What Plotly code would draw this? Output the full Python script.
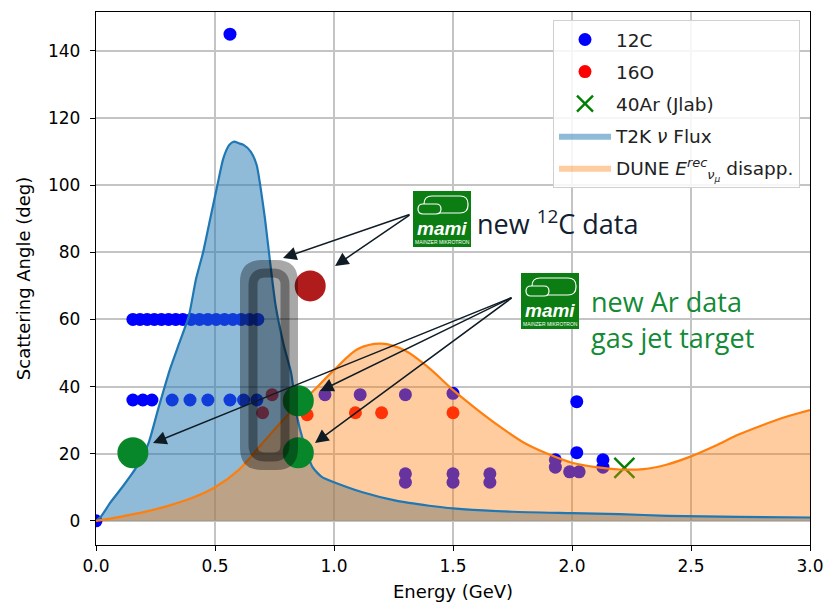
import plotly.graph_objects as go

# ---------------- data ----------------
# T2K neutrino flux (arbitrary units scaled to the angle axis)
t2k_E = [0.0, 0.02, 0.06, 0.11, 0.17, 0.22, 0.26, 0.31, 0.35, 0.39, 0.42, 0.45, 0.48, 0.51,
         0.535, 0.56, 0.58, 0.60, 0.62, 0.65, 0.675, 0.69, 0.71, 0.73, 0.755, 0.79, 0.82,
         0.845, 0.87, 0.91, 0.95, 1.0, 1.12, 1.26, 1.4, 1.5, 1.75, 2.0, 2.2, 2.4, 2.7, 3.0]
t2k_flux = [0, 1.2, 5.4, 10, 16, 23, 33, 45, 53, 61, 72, 80, 90, 100,
            108, 112, 113, 112.5, 112, 110, 106, 100, 90, 78, 64, 52, 44,
            31, 24, 16, 13, 11.5, 8.5, 6, 4.5, 3.7, 2.7, 2.3, 2.0, 1.5, 1.2, 1.0]

# DUNE reconstructed-energy disappearance spectrum
dune_E = [0.0, 0.1, 0.2, 0.3, 0.4, 0.5, 0.6, 0.7, 0.8, 0.9, 1.0, 1.1, 1.2, 1.3, 1.4,
          1.5, 1.6, 1.7, 1.8, 1.9, 2.0, 2.1, 2.2, 2.3, 2.4, 2.5, 2.6, 2.7, 2.8, 2.9, 3.0]
dune_spec = [0, 1.2, 2.6, 4.4, 6.7, 10.0, 15.2, 23.2, 31.1, 37.8, 44.9, 51.2, 52.8, 50.7,
             45.5, 39.0, 33.2, 27.9, 23.2, 19.9, 17.3, 16.0, 15.3, 15.4, 16.8, 19.2, 22.3,
             25.7, 28.5, 31.0, 33.0]

# 12C electron scattering data
c12_E = [0.0, 0.563,
         0.155, 0.185, 0.215, 0.245, 0.275, 0.305, 0.335, 0.365, 0.40, 0.435, 0.47, 0.505,
         0.54, 0.575, 0.61, 0.645, 0.68,
         0.155, 0.197, 0.235, 0.32, 0.395, 0.47, 0.563, 0.62, 0.676,
         0.962, 1.11, 1.30, 1.50,
         1.30, 1.30, 1.50, 1.50, 1.655, 1.655,
         1.93, 1.93, 2.02, 2.02, 1.99, 2.03, 2.13, 2.13]
c12_angle = [0, 145,
             60, 60, 60, 60, 60, 60, 60, 60, 60, 60, 60, 60,
             60, 60, 60, 60, 60,
             36, 36, 36, 36, 36, 36, 36, 36, 36,
             37.6, 37.6, 37.6, 38,
             14, 11.5, 14, 11.5, 14, 11.5,
             18.2, 16, 35.5, 20.3, 14.6, 14.6, 18.2, 16]

# 16O data
o16_E = [0.70, 0.74, 0.887, 1.09, 1.20, 1.50]
o16_angle = [32.2, 37.6, 31.6, 32.2, 32.2, 32.2]

# 40Ar (JLab)
ar40_E = [2.22]
ar40_angle = [15.8]

# new MAMI measurements (highlighted)
new_c_E = [0.90]
new_c_angle = [70]
new_ar_E = [0.155, 0.85, 0.85]
new_ar_angle = [20.3, 35.8, 20.3]

# ---------------- geometry helpers (pixel -> paper / data) ----------------
L, R, T, B = 96, 810, 12, 545
XR = [0.0, 3.0]
YR = [-7.2, 151.6]


def pxp(x):
    return (x - L) / (R - L)


def pyp(y):
    return (B - y) / (B - T)


def pxd(x):
    return XR[0] + pxp(x) * (XR[1] - XR[0])


def pyd(y):
    return YR[0] + pyp(y) * (YR[1] - YR[0])


def rrect(x0, y0, x1, y1, r):
    """rounded rectangle path in paper coords, given pixel bounds"""
    pts = []
    pts.append("M%f,%f" % (pxp(x0 + r), pyp(y0)))
    pts.append("L%f,%f" % (pxp(x1 - r), pyp(y0)))
    pts.append("Q%f,%f %f,%f" % (pxp(x1), pyp(y0), pxp(x1), pyp(y0 + r)))
    pts.append("L%f,%f" % (pxp(x1), pyp(y1 - r)))
    pts.append("Q%f,%f %f,%f" % (pxp(x1), pyp(y1), pxp(x1 - r), pyp(y1)))
    pts.append("L%f,%f" % (pxp(x0 + r), pyp(y1)))
    pts.append("Q%f,%f %f,%f" % (pxp(x0), pyp(y1), pxp(x0), pyp(y1 - r)))
    pts.append("L%f,%f" % (pxp(x0), pyp(y0 + r)))
    pts.append("Q%f,%f %f,%f" % (pxp(x0), pyp(y0), pxp(x0 + r), pyp(y0)))
    return " ".join(pts) + " Z"


BLUE = "#1f77b4"
ORANGE = "#ff7f0e"
AXFONT = "DejaVu Sans"
SM_T2K = 0.6
SM_DUNE = 0.9

fig = go.Figure()

# data points (drawn first so the spectra fills tint them)
fig.add_trace(go.Scatter(x=c12_E, y=c12_angle, mode="markers", name="12C", legendgroup="a",
                         marker=dict(color="blue", size=13, line=dict(width=0))))
fig.add_trace(go.Scatter(x=o16_E, y=o16_angle, mode="markers", name="16O", legendgroup="b",
                         marker=dict(color="red", size=13, line=dict(width=0))))
fig.add_trace(go.Scatter(x=ar40_E, y=ar40_angle, mode="markers", name="40Ar (Jlab)",
                         legendgroup="c",
                         marker=dict(symbol="x-thin", color="green", size=20,
                                     line=dict(width=2.4, color="green"))))
# spectra fills
fig.add_trace(go.Scatter(x=t2k_E, y=t2k_flux, mode="lines", name="T2K <i>ν</i> Flux",
                         legendgroup="d",
                         fill="tozeroy", fillcolor="rgba(31,119,180,0.5)",
                         line=dict(width=0, color="rgba(31,119,180,0.5)",
                                   shape="spline", smoothing=SM_T2K)))
fig.add_trace(go.Scatter(x=dune_E, y=dune_spec, mode="lines", legendgroup="e",
                         name="DUNE <i>E</i><sup><i>rec</i></sup><sub><i>ν</i><sub><i>μ</i></sub></sub> disapp.",
                         fill="tozeroy", fillcolor="rgba(255,127,14,0.4)",
                         line=dict(width=0, color="rgba(255,127,14,0.4)",
                                   shape="spline", smoothing=SM_DUNE)))
# spectra outlines
fig.add_trace(go.Scatter(x=t2k_E, y=t2k_flux, mode="lines", showlegend=False,
                         line=dict(width=2.2, color=BLUE, shape="spline", smoothing=SM_T2K)))
fig.add_trace(go.Scatter(x=dune_E, y=dune_spec, mode="lines", showlegend=False,
                         line=dict(width=2.2, color=ORANGE, shape="spline", smoothing=SM_DUNE)))
# highlighted new measurements
fig.add_trace(go.Scatter(x=new_c_E, y=new_c_angle, mode="markers", showlegend=False,
                         marker=dict(color="#b01b1b", size=31, line=dict(width=0))))
fig.add_trace(go.Scatter(x=new_ar_E, y=new_ar_angle, mode="markers", showlegend=False,
                         marker=dict(color="#07862a", size=31, line=dict(width=0))))

shapes = []
# translucent rounded highlight box
shapes.append(dict(type="path", xref="paper", yref="paper", layer="above",
                   path=rrect(240, 260, 298, 470, 22),
                   fillcolor="rgba(0,0,0,0.34)", line=dict(width=0)))
shapes.append(dict(type="path", xref="paper", yref="paper", layer="above",
                   path=rrect(253, 273, 285, 457, 12),
                   fillcolor="rgba(0,0,0,0)", line=dict(width=9, color="rgba(0,0,0,0.35)")))

annotations = []
# logos
LOGO_GREEN = "#0b7d12"
for (lx0, ly0) in [(413, 191), (521, 273)]:
    lx1, ly1 = lx0 + 58, ly0 + 56
    shapes.append(dict(type="rect", xref="paper", yref="paper", layer="above",
                       x0=pxp(lx0), x1=pxp(lx1), y0=pyp(ly1), y1=pyp(ly0),
                       fillcolor=LOGO_GREEN, line=dict(width=0)))
    shapes.append(dict(type="path", xref="paper", yref="paper", layer="above",
                       path=rrect(lx0 + 11, ly0 + 5, lx0 + 55, ly0 + 22, 8),
                       fillcolor="rgba(0,0,0,0)", line=dict(width=1.2, color="white")))
    shapes.append(dict(type="path", xref="paper", yref="paper", layer="above",
                       path=rrect(lx0 + 5, ly0 + 13, lx0 + 28, ly0 + 23, 5),
                       fillcolor=LOGO_GREEN, line=dict(width=1.2, color="white")))
    annotations.append(dict(xref="paper", yref="paper", x=pxp(lx0 + 29), y=pyp(ly0 + 37),
                            text="<b><i>mami</i></b>", showarrow=False,
                            font=dict(family="Liberation Sans", size=19, color="white"),
                            xanchor="center", yanchor="middle"))
    annotations.append(dict(xref="paper", yref="paper", x=pxp(lx0 + 29), y=pyp(ly0 + 51),
                            text="MAINZER MIKROTRON", showarrow=False,
                            font=dict(family="Liberation Sans", size=5, color="white"),
                            xanchor="center", yanchor="middle"))

# arrows
ARROW = "#0f1c26"
arrow_list = [((411, 214), (283, 258)), ((411, 214), (335, 266)),
              ((513, 297), (153, 443)), ((513, 297), (320, 391)), ((513, 297), (315, 443))]
for (tail, head) in arrow_list:
    annotations.append(dict(x=pxd(head[0]), y=pyd(head[1]), ax=pxd(tail[0]), ay=pyd(tail[1]),
                            xref="x", yref="y", axref="x", ayref="y", text="",
                            showarrow=True, arrowhead=2, arrowsize=1.8, arrowwidth=1.5,
                            arrowcolor=ARROW, standoff=0))

# texts
TXTFONT = "Open Sans"
annotations.append(dict(xref="paper", yref="paper", x=pxp(475), y=pyp(222),
                        text="new <sup>12</sup>C data", showarrow=False,
                        font=dict(family=TXTFONT, size=27, color="#102030"),
                        xanchor="left", yanchor="middle"))
annotations.append(dict(xref="paper", yref="paper", x=pxp(589), y=pyp(301),
                        text="new Ar data", showarrow=False,
                        font=dict(family=TXTFONT, size=27, color="#138a36"),
                        xanchor="left", yanchor="middle"))
annotations.append(dict(xref="paper", yref="paper", x=pxp(589), y=pyp(337),
                        text="gas jet target", showarrow=False,
                        font=dict(family=TXTFONT, size=27, color="#138a36"),
                        xanchor="left", yanchor="middle"))

fig.update_layout(
    width=828, height=605, autosize=False,
    margin=dict(l=L, r=828 - R, t=T, b=605 - B),
    paper_bgcolor="white", plot_bgcolor="white",
    font=dict(family=AXFONT, size=17, color="black"),
    shapes=shapes, annotations=annotations,
    legend=dict(x=pxp(800), xanchor="right", y=pyp(20), yanchor="top",
                bgcolor="rgba(255,255,255,0.85)", bordercolor="#d0d0d0", borderwidth=1,
                font=dict(family=AXFONT, size=18.5, color="#222"), itemwidth=52,
                traceorder="grouped", tracegroupgap=5),
    xaxis=dict(range=XR, dtick=0.5, tickformat=".1f", showgrid=True, automargin=False,
               gridcolor="#c4c4c4", gridwidth=1.5, zeroline=False,
               showline=True, linecolor="black", linewidth=1.3, mirror=True,
               ticks="outside", ticklen=5, tickcolor="black", ticklabelstandoff=0,
               title=dict(text="Energy (GeV)", standoff=10, font=dict(size=18)),
               tickfont=dict(size=17)),
    yaxis=dict(range=YR, dtick=20, showgrid=True, automargin=False,
               gridcolor="#c4c4c4", gridwidth=1.5, zeroline=False,
               showline=True, linecolor="black", linewidth=1.3, mirror=True,
               ticks="outside", ticklen=5, tickcolor="black", ticklabelstandoff=6,
               title=dict(text="Scattering Angle (deg)", standoff=12, font=dict(size=18)),
               tickfont=dict(size=17)),
)

fig.write_html("out.html")
